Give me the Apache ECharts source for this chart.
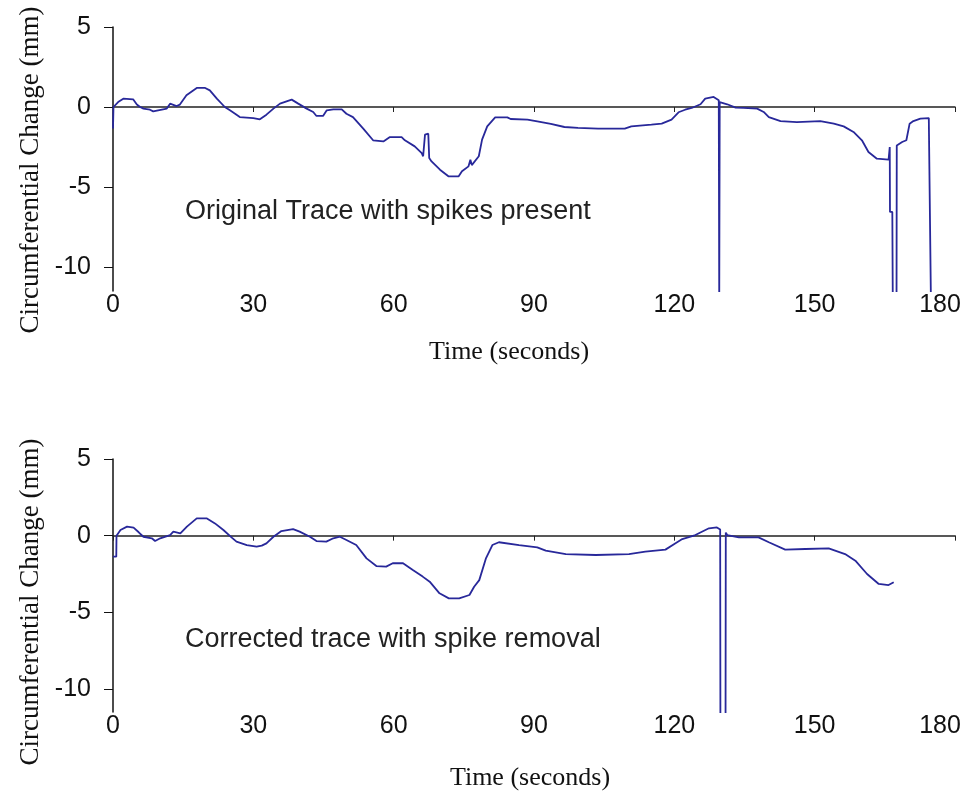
<!DOCTYPE html>
<html>
<head>
<meta charset="utf-8">
<script src="https://cdn.jsdelivr.net/npm/echarts@6/dist/echarts.min.js"></script>
<style>
  html, body { margin: 0; padding: 0; background: #ffffff; }
  #chart { width: 970px; height: 796px; }
</style>
</head>
<body>
<div id="chart"></div>
<script>
// Original recording (seconds, mm), spikes included
const rawTime = [0, 0.1, 1.1, 2.2, 4.3, 5.1, 5.8, 6.5, 7.9, 8.6, 11.5, 12.2, 13.6, 14.3, 15.7, 17.9, 19.7, 20.7, 22.2, 23.9,
  25.0, 26.1, 27.1, 30.0, 31.4, 32.8, 34.3, 35.7, 37.1, 38.2, 39.6, 41.4, 42.8, 43.5, 44.9, 45.7, 47.1, 48.9, 49.9, 51.3,
  53.5, 55.6, 57.8, 59.2, 61.7, 62.4, 64.5, 66.0, 66.3, 66.7, 67.4, 67.6, 68.1, 69.9, 71.7, 73.9, 74.6, 76.0, 76.4, 76.7,
  78.2, 78.9, 80.0, 81.7, 84.3, 85.0, 88.6, 90.7, 93.6, 96.5, 99.4, 103.7, 109.4, 110.8, 115.1, 117.3, 119.4, 120.9, 122.3, 123.7,
  125.6, 126.6, 128.4, 129.5, 129.6, 129.7, 131.3, 133.1, 134.8, 137.7, 139.1, 140.2, 142.7, 146.2, 151.2, 154.1, 156.2, 158.3, 160.1, 161.5,
  163.3, 165.8, 166.0, 166.05, 166.1, 166.6, 166.7, 167.5, 167.55, 168.7, 169.6, 170.3, 171.1, 172.6, 174.4, 174.8, 174.85];
const rawValue = [-1.35, 0, 0.31, 0.52, 0.48, 0.15, 0, -0.1, -0.17, -0.27, -0.1, 0.21, 0.06, 0.15, 0.73, 1.19, 1.19, 1.04, 0.52, 0,
  -0.21, -0.42, -0.63, -0.69, -0.77, -0.48, -0.1, 0.21, 0.35, 0.46, 0.21, -0.1, -0.31, -0.56, -0.56, -0.21, -0.15, -0.15, -0.42, -0.63,
  -1.35, -2.08, -2.15, -1.88, -1.88, -2.08, -2.46, -2.88, -3.08, -1.73, -1.67, -3.19, -3.4, -3.92, -4.33, -4.33, -4.02, -3.71, -3.29, -3.63,
  -3.08, -2.04, -1.21, -0.65, -0.65, -0.75, -0.79, -0.9, -1.06, -1.25, -1.31, -1.35, -1.35, -1.21, -1.1, -1.04, -0.79, -0.33, -0.17, -0.06,
  0.17, 0.52, 0.63, 0.42, -12, 0.3, 0.17, -0.04, -0.06, -0.1, -0.31, -0.63, -0.88, -0.94, -0.88, -1.04, -1.21, -1.56, -2.08, -2.81,
  -3.23, -3.29, -3.29, -2.5, -6.56, -6.56, -12, -12, -2.4, -2.19, -2.08, -1.04, -0.88, -0.73, -0.69, -0.73, -12];

// Corrected recording after spike removal
const fixedTime = [0, 0.7, 0.75, 1.6, 3.0, 4.4, 5.5, 6.5, 8.3, 9.0, 10.1, 12.2, 12.9, 14.4, 15.8, 17.9, 20.0, 21.8, 23.6, 25.4,
  26.4, 28.6, 30.7, 31.8, 32.8, 34.3, 36.0, 38.5, 39.9, 42.1, 43.5, 45.6, 47.1, 48.5, 49.9, 52.0, 54.2, 56.3, 58.4, 59.8,
  62.0, 64.1, 66.2, 67.7, 69.8, 71.8, 74.0, 76.2, 77.2, 78.3, 79.7, 81.1, 82.5, 86.8, 90.7, 92.5, 96.8, 103.2, 110.3, 113.8,
  118.1, 120.0, 121.7, 124.5, 127.4, 129.1, 129.8, 129.85, 130.95, 131.0, 131.3, 133.8, 138.0, 140.2, 143.7, 148.0, 153.0, 156.5, 158.7, 161.2,
  163.7, 165.8, 166.9];
const fixedValue = [-1.37, -1.37, 0, 0.37, 0.59, 0.52, 0.22, -0.07, -0.17, -0.35, -0.17, 0.04, 0.26, 0.15, 0.59, 1.13, 1.13, 0.8, 0.37, -0.13,
  -0.39, -0.61, -0.72, -0.65, -0.5, -0.07, 0.3, 0.43, 0.26, -0.07, -0.35, -0.39, -0.17, -0.07, -0.28, -0.61, -1.48, -1.98, -2.02, -1.8,
  -1.8, -2.24, -2.67, -3.0, -3.76, -4.09, -4.09, -3.87, -3.33, -2.9, -1.5, -0.61, -0.43, -0.61, -0.76, -0.98, -1.2, -1.26, -1.2, -1.04,
  -0.91, -0.54, -0.22, 0.04, 0.48, 0.54, 0.4, -12, -12, 0.2, 0.04, -0.11, -0.11, -0.43, -0.91, -0.87, -0.83, -1.2, -1.63, -2.5,
  -3.15, -3.22, -3.04];

const yTicks = [-10, -5, 0, 5];
const xRange = [0, 180];
const xStep = 30;
const yRange = [-11.5, 5];

const captions = ['Original Trace with spikes present', 'Corrected trace with spike removal'];
const xTitle = 'Time (seconds)';
const yTitle = 'Circumferential Change (mm)';

const traceColor = '#28289a';
const sansFont = '"Liberation Sans", Arial, sans-serif';
const serifFont = '"Liberation Serif", "Times New Roman", serif';

function pairs(ts, vs) { return ts.map((t, i) => [t, vs[i]]); }

// keep the last time label inside the page
function timeLabel(v) {
  return v === xRange[1] ? '{end|' + v + '}' : String(v);
}

const grids = [
  { left: 113, top: 27, width: 842, height: 264, outerBoundsMode: 'none' },
  { left: 113, top: 459, width: 842, height: 253, outerBoundsMode: 'none' }
];

const xAxes = [];
const yAxes = [];
grids.forEach((g, i) => {
  // tick labels along the bottom of the panel
  xAxes.push({
    type: 'value', gridIndex: i, min: xRange[0], max: xRange[1], interval: xStep,
    position: 'bottom',
    axisLine: { show: false, onZero: false },
    axisTick: { show: false },
    splitLine: { show: false },
    axisLabel: {
      color: '#111', fontFamily: sansFont, fontSize: 25, margin: 2,
      formatter: timeLabel,
      rich: { end: { color: '#111', fontFamily: sansFont, fontSize: 25, padding: [0, 30, 0, 0] } }
    }
  });
  // zero baseline with small downward ticks
  xAxes.push({
    type: 'value', gridIndex: i, min: xRange[0], max: xRange[1], interval: xStep,
    position: 'bottom',
    axisLine: { show: true, onZero: true, lineStyle: { color: '#222', width: 1.5 } },
    axisTick: { show: true, length: 5, lineStyle: { color: '#222', width: 1 } },
    splitLine: { show: false },
    axisLabel: { show: false }
  });
  yAxes.push({
    type: 'value', gridIndex: i, min: yRange[0], max: yRange[1],
    axisLine: { show: true, onZero: false, lineStyle: { color: '#111', width: 1.5 } },
    axisTick: { show: true, length: 9, customValues: yTicks, lineStyle: { color: '#111', width: 1 } },
    axisLabel: { customValues: yTicks, color: '#111', fontFamily: sansFont, fontSize: 25, margin: 22 },
    splitLine: { show: false }
  });
});

const option = {
  animation: false,
  backgroundColor: '#ffffff',
  grid: grids,
  xAxis: xAxes,
  yAxis: yAxes,
  series: [
    {
      type: 'line', xAxisIndex: 0, yAxisIndex: 0, data: pairs(rawTime, rawValue),
      showSymbol: false, clip: true,
      lineStyle: { color: traceColor, width: 1.8 }
    },
    {
      type: 'line', xAxisIndex: 2, yAxisIndex: 1, data: pairs(fixedTime, fixedValue),
      showSymbol: false, clip: true,
      lineStyle: { color: traceColor, width: 1.8 }
    }
  ],
  graphic: [
    { type: 'text', x: 185, y: 212, style: { text: captions[0], fill: '#222', font: '27px ' + sansFont, align: 'left', verticalAlign: 'middle' } },
    { type: 'text', x: 185, y: 640, style: { text: captions[1], fill: '#222', font: '27px ' + sansFont, align: 'left', verticalAlign: 'middle' } },
    { type: 'text', x: 509, y: 352, style: { text: xTitle, fill: '#111', font: '26px ' + serifFont, align: 'center', verticalAlign: 'middle' } },
    { type: 'text', x: 530, y: 778, style: { text: xTitle, fill: '#111', font: '26px ' + serifFont, align: 'center', verticalAlign: 'middle' } },
    { type: 'text', x: 31, y: 170, rotation: Math.PI / 2, style: { text: yTitle, fill: '#111', font: '27px ' + serifFont, align: 'center', verticalAlign: 'middle' } },
    { type: 'text', x: 31, y: 602, rotation: Math.PI / 2, style: { text: yTitle, fill: '#111', font: '27px ' + serifFont, align: 'center', verticalAlign: 'middle' } }
  ]
};

const chart = echarts.init(document.getElementById('chart'), null, { renderer: 'canvas' });
chart.setOption(option);
</script>
</body>
</html>
